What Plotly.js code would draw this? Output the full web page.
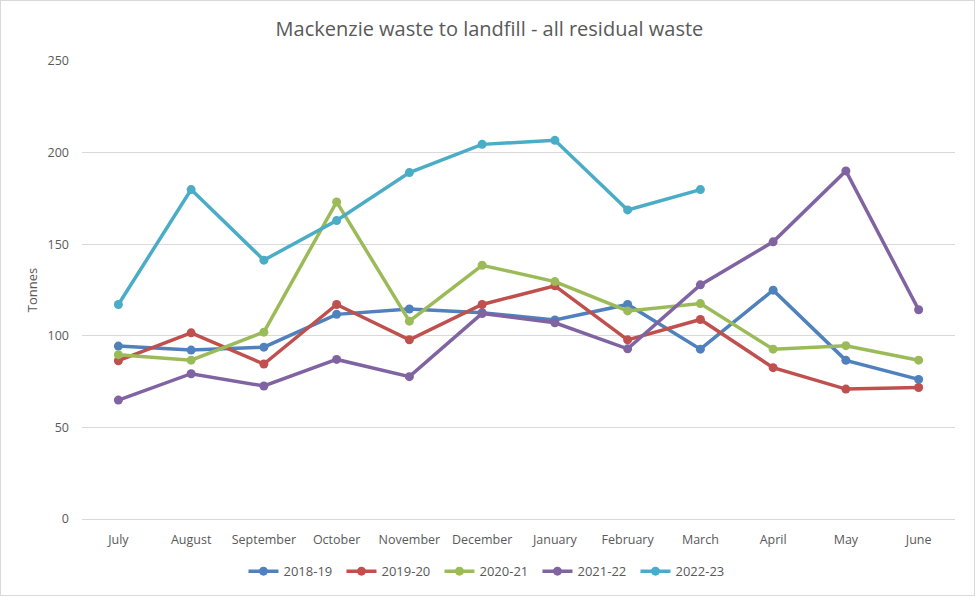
<!DOCTYPE html>
<html>
<head>
<meta charset="utf-8">
<script src="https://cdn.plot.ly/plotly-3.0.1.min.js"></script>
<style>
  body { margin: 0; background: #fff; }
  #chart { width: 973px; height: 594px; border: 1px solid #d9d9d9; }
</style>
</head>
<body>
<div id="chart"></div>
<script>
// Months of the financial year
const months = ['July', 'August', 'September', 'October', 'November', 'December',
                'January', 'February', 'March', 'April', 'May', 'June'];

// Tonnes to landfill per month, by year
const y2018_19 = [94.4, 92.2, 93.8, 111.7, 114.6, 112.6, 108.6, 117.1, 92.7, 124.9, 86.6, 76.2];
const y2019_20 = [86.4, 101.6, 84.6, 117.1, 97.8, 117.1, 127.3, 97.8, 108.9, 82.6, 70.9, 71.8];
const y2020_21 = [89.7, 86.7, 102.0, 173.1, 108.0, 138.5, 129.6, 113.6, 117.6, 92.7, 94.6, 86.7];
const y2021_22 = [64.9, 79.3, 72.6, 87.1, 77.7, 112.2, 107.1, 92.9, 127.8, 151.3, 190.0, 114.2];
const y2022_23 = [117.1, 179.8, 141.3, 162.9, 189.1, 204.5, 206.7, 168.7, 179.8];

const names = ['2018-19', '2019-20', '2020-21', '2021-22', '2022-23'];
const series = [y2018_19, y2019_20, y2020_21, y2021_22, y2022_23];
const colors = ['#4f81bd', '#c0504d', '#9bbb59', '#8064a2', '#4bacc6'];

var data = [];
for (var i = 0; i < series.length; i++) {
  data.push({
    x: months.slice(0, series[i].length),
    y: series[i],
    name: names[i],
    type: 'scatter',
    mode: 'lines+markers',
    line: {color: colors[i], width: 3.5},
    marker: {color: colors[i], size: 9}
  });
}

var font = 'Open Sans, Liberation Sans, sans-serif';

var layout = {
  width: 973,
  height: 594,
  margin: {l: 81, r: 19, t: 60, b: 76, autoexpand: false},
  paper_bgcolor: '#fff',
  plot_bgcolor: '#fff',
  font: {family: font, size: 12, color: '#595959'},
  title: {
    text: 'Mackenzie waste to landfill - all residual waste',
    font: {family: font, size: 20, color: '#595959'},
    x: 0.502,
    xanchor: 'center',
    y: 0.953,
    yanchor: 'middle'
  },
  xaxis: {
    type: 'category',
    range: [-0.5, 11.5],
    showgrid: false,
    showline: true,
    linecolor: '#d9d9d9',
    linewidth: 1,
    ticks: '',
    ticklabelstandoff: 9,
    tickfont: {size: 12.5, color: '#595959'},
    automargin: false,
    fixedrange: true
  },
  yaxis: {
    range: [0, 250],
    dtick: 50,
    showgrid: true,
    gridcolor: '#d9d9d9',
    gridwidth: 1,
    zeroline: false,
    ticks: '',
    ticklen: 0,
    ticklabelstandoff: 12,
    tickfont: {size: 12.5, color: '#595959'},
    title: {text: 'Tonnes', font: {size: 13, color: '#595959'}, standoff: 6},
    automargin: false,
    fixedrange: true
  },
  showlegend: true,
  legend: {
    orientation: 'h',
    xref: 'container',
    yref: 'container',
    x: 0.501,
    xanchor: 'center',
    y: 0.04,
    yanchor: 'middle',
    entrywidth: 53,
    font: {size: 13, color: '#595959'}
  }
};

Plotly.newPlot('chart', data, layout, {displayModeBar: false, staticPlot: true});
</script>
</body>
</html>
